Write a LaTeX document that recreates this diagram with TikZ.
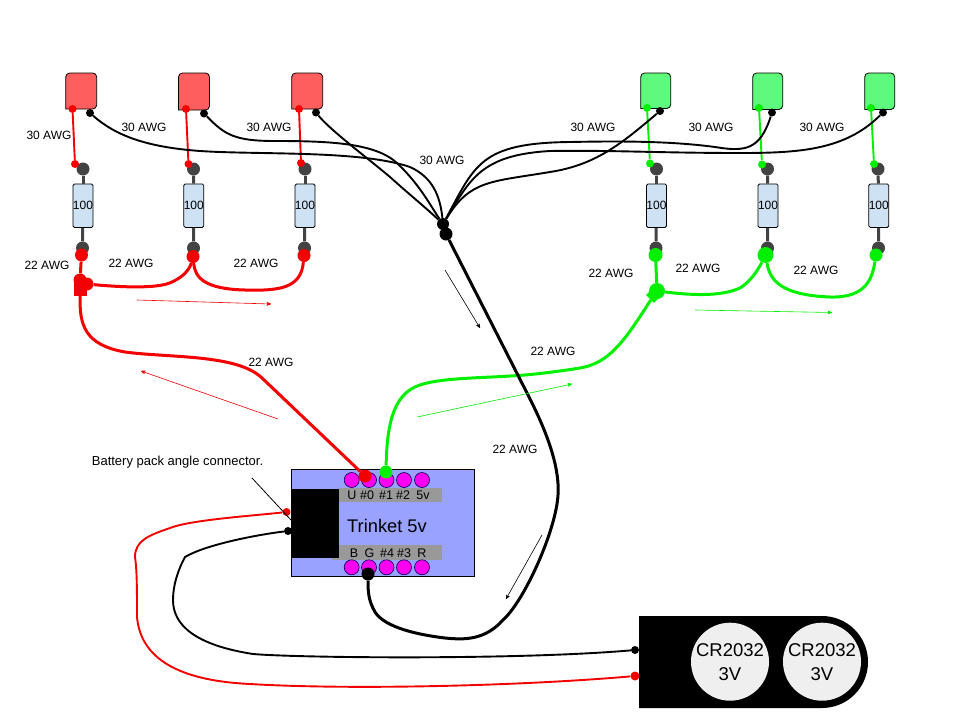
\documentclass[tikz,border=0pt]{standalone}
\usepackage{fontspec}
\setmainfont{Liberation Sans}
\usetikzlibrary{arrows,positioning}
\definecolor{ledred}{HTML}{FF5E5E}
\definecolor{ledgreen}{HTML}{5DFA7D}
\definecolor{wirered}{HTML}{F40000}
\definecolor{wiregreen}{HTML}{00F000}
\definecolor{resblue}{HTML}{CFE2F3}
\definecolor{padgray}{HTML}{434343}
\definecolor{boardblue}{HTML}{9AA2FF}
\definecolor{pinpink}{HTML}{FF00F0}
\definecolor{barray}{HTML}{999999}
\definecolor{cellgray}{HTML}{EFEFEF}
\tikzset{
    wiring/.style={x=1pt,y=-1pt,>=stealth',font=\fontsize{12}{14}\selectfont},
    ledbody/.style={draw=black,line width=0.8pt,fill=#1},
    dot/.style={circle,fill=#1,inner sep=0pt,minimum size=8pt},
    bigdot/.style={circle,fill=#1,inner sep=0pt,minimum size=13pt},
    pad/.style={circle,fill=padgray,inner sep=0pt,minimum size=13pt},
    resistor/.style={rectangle,rounded corners=1.5pt,draw=black,line width=0.8pt,fill=resblue,
                     minimum width=17.5pt,minimum height=43.5pt,inner sep=0pt,font=\fontsize{12}{13}\selectfont},
    pin/.style={circle,draw=black!70!blue,line width=0.6pt,fill=pinpink,inner sep=0pt,minimum size=15pt},
    awg/.style={inner sep=0pt},
    pinname/.style={inner sep=0pt,anchor=base,font=\fontsize{12.5}{14}\selectfont},
    cell/.style={circle,fill=cellgray,inner sep=0pt,minimum size=78pt,align=center,
                 font=\fontsize{18.5}{24}\selectfont},
    thinwire/.style={line width=0.8pt},
    thin30/.style={line width=1.9pt},
    thick22/.style={line width=3pt},
    stem/.style={padgray,line width=3pt},
    flow/.style={->,line width=0.6pt},
}
\begin{document}
\begin{tikzpicture}[wiring]
            \useasboundingbox (0,0) rectangle (960,720);
            \fill[white] (0,0) rectangle (960,720);

            \draw[ledbody=ledred] (65.7,109) [rounded corners=4pt] -- (65.7,73) -- (96.7,73) -- (96.7,109) [sharp corners] -- cycle;
            \draw[ledbody=ledred] (178.5,110) [rounded corners=4pt] -- (178.5,73) -- (209.5,73) -- (209.5,110) [sharp corners] -- cycle;
            \draw[ledbody=ledred] (291.7,109) [rounded corners=4pt] -- (291.7,73) -- (322.7,73) -- (322.7,109) [sharp corners] -- cycle;
            \draw[ledbody=ledgreen] (640.7,108.5) [rounded corners=4pt] -- (640.7,73) -- (670.7,73) -- (670.7,108.5) [sharp corners] -- cycle;
            \draw[ledbody=ledgreen] (752.7,109.5) [rounded corners=4pt] -- (752.7,73) -- (782.7,73) -- (782.7,109.5) [sharp corners] -- cycle;
            \draw[ledbody=ledgreen] (864.7,109.5) [rounded corners=4pt] -- (864.7,73) -- (894.7,73) -- (894.7,109.5) [sharp corners] -- cycle;

            \node[pad] (pt1) at (83,169) {};
            \node[pad] (pt2) at (193.5,169) {};
            \node[pad] (pt3) at (305,169) {};
            \node[pad] (pt4) at (656.5,169) {};
            \node[pad] (pt5) at (767.5,169) {};
            \node[pad] (pt6) at (878,169) {};
            \node[pad] (pb1) at (82.5,248) {};
            \node[pad] (pb2) at (193.5,248) {};
            \node[pad] (pb3) at (304.5,248) {};
            \node[pad] (pb4) at (656,248) {};
            \node[pad] (pb5) at (767.5,248) {};
            \node[pad] (pb6) at (878.5,248) {};

            \node[resistor] (res1) at (83,205.7) {100};
            \node[resistor] (res2) at (193.8,205.7) {100};
            \node[resistor] (res3) at (305,205.7) {100};
            \node[resistor] (res4) at (656.5,205.7) {100};
            \node[resistor] (res5) at (768,205.7) {100};
            \node[resistor] (res6) at (878.8,205.7) {100};

            \path[stem] (pt1) edge (res1) (res1) edge (pb1);
            \path[stem] (pt2) edge (res2) (res2) edge (pb2);
            \path[stem] (pt3) edge (res3) (res3) edge (pb3);
            \path[stem] (pt4) edge (res4) (res4) edge (pb4);
            \path[stem] (pt5) edge (res5) (res5) edge (pb5);
            \path[stem] (pt6) edge (res6) (res6) edge (pb6);

            \node[dot=wirered] (ra1) at (72.5,109) {};
            \node[dot=wirered] (ra2) at (186,109) {};
            \node[dot=wirered] (ra3) at (299,109) {};
            \node[dot=wirered] (rk1) at (75,164) {};
            \node[dot=wirered] (rk2) at (188.5,164) {};
            \node[dot=wirered] (rk3) at (301,163) {};
            \node[dot=wiregreen] (ga1) at (647,108) {};
            \node[dot=wiregreen] (ga2) at (759,108) {};
            \node[dot=wiregreen] (ga3) at (871,108) {};
            \node[dot=wiregreen] (gk1) at (650,163.5) {};
            \node[dot=wiregreen] (gk2) at (762,164.5) {};
            \node[dot=wiregreen] (gk3) at (874,164) {};
            \node[dot=black] (bk1) at (90,113) {};
            \node[dot=black] (bk2) at (204,113.5) {};
            \node[dot=black] (bk3) at (316,112.5) {};
            \node[dot=black] (bk4) at (660,111) {};
            \node[dot=black] (bk5) at (772,112.5) {};
            \node[dot=black] (bk6) at (883,112.5) {};

            \draw[wirered,thin30] (ra1) -- (rk1);
            \draw[wirered,thin30] (ra2) -- (rk2);
            \draw[wirered,thin30] (ra3) -- (rk3);
            \draw[wiregreen,thin30] (ga1) -- (gk1);
            \draw[wiregreen,thin30] (ga2) -- (gk2);
            \draw[wiregreen,thin30] (ga3) -- (gk3);

            \node[circle,fill=black,inner sep=0pt,minimum size=12pt] (hubl) at (443,224) {};
            \node[bigdot=black] (hub) at (446,234) {};

            \draw[thin30] (bk1) .. controls (115,135) and (145,147) .. (200,151) .. controls (260,155) and (360,150) .. (410,167) .. controls (432,177) and (440,195) .. (hubl);
            \draw[thin30] (bk2) .. controls (225,135) and (235,141) .. (275,141) .. controls (330,141) and (375,143) .. (397,163) .. controls (420,185) and (430,205) .. (hubl);
            \draw[thin30] (bk3) .. controls (330,130) and (370,160) .. (390,177) .. controls (410,195) and (425,207) .. (hubl);
            \draw[thin30] (bk4) .. controls (620,145) and (595,165) .. (550,172) .. controls (490,182) and (470,180) .. (hubl);
            \draw[thin30] (bk5) .. controls (760,150) and (745,152) .. (715,147) .. controls (670,141) and (620,141) .. (570,142) .. controls (480,143) and (475,165) .. (hubl);
            \draw[thin30] (bk6) .. controls (845,150) and (800,153) .. (740,153) .. controls (660,153) and (610,150) .. (550,151) .. controls (480,155) and (470,180) .. (hubl);

            \node[awg] (a1) at (49,135) {30 AWG};
            \node[awg] (a2) at (144,127) {30 AWG};
            \node[awg] (a3) at (269,127) {30 AWG};
            \node[awg] (a4) at (442,160) {30 AWG};
            \node[awg] (a5) at (593,127) {30 AWG};
            \node[awg] (a6) at (711,127) {30 AWG};
            \node[awg] (a7) at (822,127) {30 AWG};
            \node[awg] (a8) at (47,265) {22 AWG};
            \node[awg] (a9) at (131,263) {22 AWG};
            \node[awg] (a10) at (256,263) {22 AWG};
            \node[awg] (a11) at (611,273) {22 AWG};
            \node[awg] (a12) at (698,268) {22 AWG};
            \node[awg] (a13) at (816,270) {22 AWG};
            \node[awg] (a14) at (271,362) {22 AWG};
            \node[awg] (a15) at (553,351) {22 AWG};
            \node[awg] (a16) at (515,449) {22 AWG};

            \node[rectangle,fill=boardblue,draw=black,line width=0.8pt,minimum width=182.6pt,minimum height=107pt,inner sep=0pt] (trinket) at (383,522.8) {};
            \node[rectangle,fill=barray,minimum width=102.7pt,minimum height=14.5pt,inner sep=0pt] (bartop) at (390.3,495.2) {};
            \node[rectangle,fill=barray,minimum width=110pt,minimum height=14.7pt,inner sep=0pt] (barbot) at (386.7,552.7) {};
            \node[rectangle,fill=black,minimum width=47.3pt,minimum height=69pt,inner sep=0pt] (socket) at (315.3,523.5) {};
            \node[font=\fontsize{18.3}{20}\selectfont,inner sep=0pt] (tname) at (387,526) {Trinket 5v};

            \node[pin] (t1) at (351.7,480) {};
            \node[pin] (t2) at (369,480) {};
            \node[pin] (t3) at (386.5,480) {};
            \node[pin] (t4) at (404,480) {};
            \node[pin] (t5) at (422,480) {};
            \node[pin] (b1) at (351.7,567.3) {};
            \node[pin] (b2) at (369,567.3) {};
            \node[pin] (b3) at (386.5,567.3) {};
            \node[pin] (b4) at (404,567.3) {};
            \node[pin] (b5) at (422,567.3) {};

            \node[pinname] (lt1) at (352,499.5) {U};
            \node[pinname] (lt2) at (367,499.5) {\#0};
            \node[pinname] (lt3) at (386,499.5) {\#1};
            \node[pinname] (lt4) at (403,499.5) {\#2};
            \node[pinname] (lt5) at (423,499.5) {5v};
            \node[pinname] (lb1) at (354,557) {B};
            \node[pinname] (lb2) at (369.5,557) {G};
            \node[pinname] (lb3) at (387,557) {\#4};
            \node[pinname] (lb4) at (404,557) {\#3};
            \node[pinname] (lb5) at (422,557) {R};

            \fill[black] (639,616) -- (822,616) arc[start angle=90,end angle=-90,radius=46pt] -- (639,708) -- cycle;
            \node[cell] (c1) at (730,661.7) {CR2032\\3V};
            \node[cell] (c2) at (822,661.7) {CR2032\\3V};

            \node[bigdot=wirered] (jr0) at (81.5,255) {};
            \node[bigdot=wirered] (jr1) at (193,256.5) {};
            \node[bigdot=wirered] (jr2) at (304,255.5) {};
            \node[bigdot=wirered] (jrl) at (80,280) {};
            \node[bigdot=wirered] (jrc) at (87,284) {};
            \node[rectangle,fill=wirered,inner sep=0pt,minimum size=13pt] (jrs) at (80.5,289) {};
            \draw[wirered,thick22] (jr0) -- (jrl);
            \draw[wirered,thick22] (jrc) .. controls (130,288) and (160,288) .. (172,282) .. controls (185,276) and (190,268) .. (jr1);
            \draw[wirered,thick22] (jr1) .. controls (195,278) and (205,289) .. (245,290) .. controls (280,291) and (301,288) .. (jr2);

            \node[bigdot=wiregreen,minimum size=14pt] (jg0) at (655.5,255) {};
            \node[bigdot=wiregreen,minimum size=16pt] (jg1) at (765.5,255) {};
            \node[bigdot=wiregreen] (jg2) at (876,255) {};
            \node[bigdot=wiregreen,minimum size=16pt] (jgc) at (657,291) {};
            \node[rectangle,rotate=45,fill=wiregreen,inner sep=0pt,minimum size=11pt] (jgs) at (654,295) {};
            \draw[wiregreen,thick22] (jg0) -- (jgc);
            \draw[wiregreen,thick22] (jgc) .. controls (690,295) and (720,297) .. (740,288) .. controls (750,282) and (758,270) .. (jg1);
            \draw[wiregreen,thick22] (jg1) .. controls (770,280) and (780,295) .. (830,297) .. controls (865,298) and (872,280) .. (jg2);

            \node[bigdot=wirered] (tr) at (365,476) {};
            \node[bigdot=wiregreen] (tg) at (386,472) {};
            \node[bigdot=black] (tk) at (368,574) {};

            \draw[wirered,thick22] (jrs) .. controls (79,325) and (85,345) .. (125,352) .. controls (170,358) and (237,354) .. (262,378) -- (tr);
            \draw[wiregreen,thick22] (jgs) .. controls (625,340) and (610,363) .. (580,368) .. controls (555,372) and (530,375) .. (510,376) .. controls (480,378) and (440,378) .. (420,385) .. controls (395,393) and (387,420) .. (tg);
            \draw[thick22] (hub) -- (527,393) .. controls (545,428) and (560,465) .. (558,495) .. controls (556,530) and (525,600) .. (503,620) .. controls (485,640) and (465,640) .. (445,638) .. controls (420,635) and (385,628) .. (375,612) .. controls (368,600) and (368,590) .. (tk);

            \node[dot=wirered] (sr) at (286.5,512) {};
            \node[dot=black] (sk) at (288,531) {};
            \node[dot=black] (hk) at (635,650) {};
            \node[circle,fill=wirered,inner sep=0pt,minimum size=9pt] (hr) at (635,676) {};
            \draw[line width=1.9pt] (sk) .. controls (255,535) and (205,545) .. (185,557) .. controls (178,570) and (173,585) .. (173,600) .. controls (173,625) and (195,645) .. (253,654) .. controls (300,658) and (520,660) .. (hk);
            \draw[wirered,line width=1.9pt] (sr) .. controls (250,516) and (190,520) .. (170,528) .. controls (150,535) and (135,540) .. (135,557) .. controls (137,570) and (137,590) .. (137,617) .. controls (140,650) and (165,680) .. (250,684) .. controls (350,690) and (520,686) .. (hr);

            \node[awg,font=\fontsize{13}{15}\selectfont] (note) at (177.5,462) {Battery pack angle connector.};
            \coordinate (notea) at (252,478);
            \coordinate (noteb) at (291,520);
            \draw[thinwire] (notea) -- (noteb);

            \coordinate (fa1) at (137,300); \coordinate (fa2) at (271,304);
            \coordinate (fb1) at (278,419); \coordinate (fb2) at (141,371);
            \coordinate (fc1) at (695,310); \coordinate (fc2) at (832,312.5);
            \coordinate (fd1) at (417,417); \coordinate (fd2) at (572,384);
            \coordinate (fe1) at (445,270); \coordinate (fe2) at (480,328);
            \coordinate (ff1) at (542,535); \coordinate (ff2) at (506,599);
            \draw[flow,wirered] (fa1) -- (fa2);
            \draw[flow,wirered] (fb1) -- (fb2);
            \draw[flow,wiregreen] (fc1) -- (fc2);
            \draw[flow,wiregreen] (fd1) -- (fd2);
            \draw[flow] (fe1) -- (fe2);
            \draw[flow] (ff1) -- (ff2);
        \end{tikzpicture}
\end{document}
